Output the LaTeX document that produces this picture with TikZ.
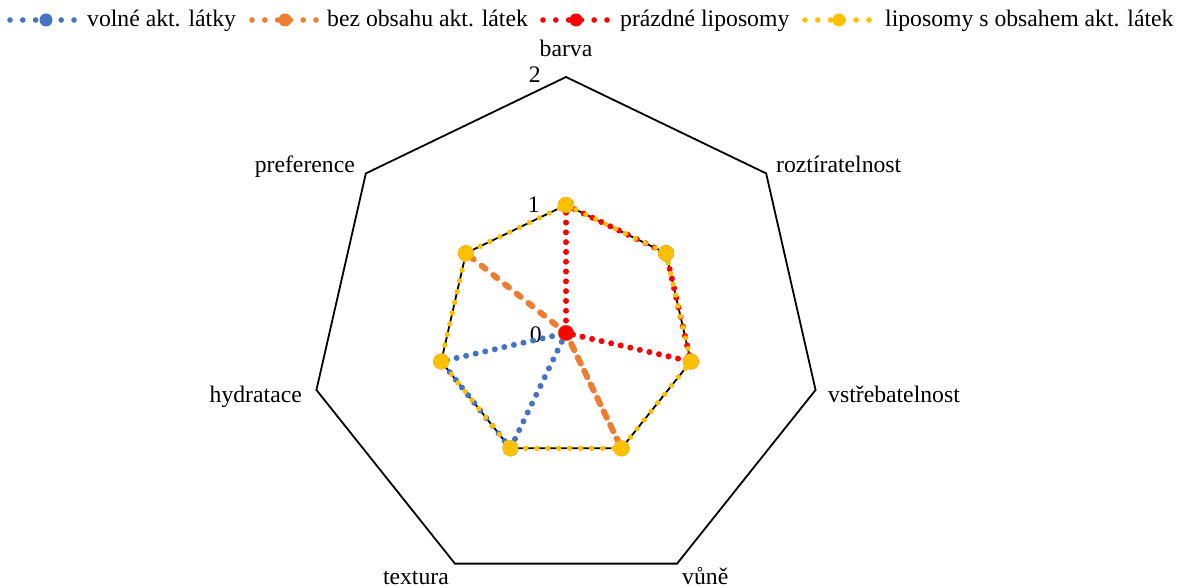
\documentclass[tikz,border=0pt]{standalone}
\usepackage{fontspec}
\setmainfont{Liberation Serif}
\usetikzlibrary{calc}
\definecolor{cblue}{HTML}{4472C4}
\definecolor{corange}{HTML}{ED7D31}
\definecolor{cred}{HTML}{FF0000}
\definecolor{cyellow}{HTML}{FFC000}
\tikzset{
  lbl/.style={inner sep=0pt, font=\fontsize{23.7}{28}\selectfont},
  grid/.style={draw=black, line width=1.8pt, line join=miter},
  ser/.style={line width=6pt, line cap=round, dash pattern=on 0pt off 9.8pt},
  serorange/.style={line width=6pt, line cap=round, dash pattern=on 4pt off 11pt},
  mk/.style={circle, inner sep=0pt, minimum size=16pt},
  lmk/.style={circle, inner sep=0pt, minimum size=13pt},
  lser/.style={line width=5.6pt, line cap=round, dash pattern=on 0pt off 12.8pt}
}
\begin{document}
\begin{tikzpicture}[x=1pt,y=1pt]
\useasboundingbox (0,0) rectangle (1181,587);
\coordinate (c) at (566,254);
\foreach \k in {0,...,6}{
  \coordinate (a\k) at ($(c)+({90-\k*360/7}:128pt)$);
  \coordinate (o\k) at ($(c)+({90-\k*360/7}:256pt)$);
}
% grid
\draw[grid] (o0)--(o1)--(o2)--(o3)--(o4)--(o5)--(o6)--cycle;
\draw[grid] (a0)--(a1)--(a2)--(a3)--(a4)--(a5)--(a6)--cycle;
% axis value labels
\node[lbl, anchor=base east] (v2) at (541,504) {2};
\node[lbl, anchor=base east] (v1) at (540,374) {1};
\node[lbl, anchor=base east] (v0) at (542,244) {0};
% category labels
\node[lbl, anchor=base] (lb0) at (566,530) {barva};
\node[lbl, anchor=base west] (lb1) at (776,414) {roztíratelnost};
\node[lbl, anchor=base west] (lb2) at (828,185) {vstřebatelnost};
\node[lbl, anchor=base west] (lb3) at (682,3) {vůně};
\node[lbl, anchor=base east] (lb4) at (449,3) {textura};
\node[lbl, anchor=base east] (lb5) at (302,185) {hydratace};
\node[lbl, anchor=base east] (lb6) at (355,414) {preference};
% series 1: volne akt. latky (blue)
\draw[ser, cblue] (c)--(a4)--(a5)--cycle;
\foreach \p in {c,a4,a5}{\node[mk, fill=cblue] at (\p) {};}
% series 2: bez obsahu (orange)
\draw[serorange, corange] (c)--(a3)--(c)--(a6)--cycle;
\foreach \p in {c,a3,a6}{\node[mk, fill=corange] at (\p) {};}
% series 3: prazdne liposomy (red)
\draw[ser, cred] (a0)--(a1)--(a2)--(c)--cycle;
\foreach \p in {a0,a1,a2}{\node[mk, fill=cred] at (\p) {};}
\node[mk, fill=cred, minimum size=15pt] (cm) at (c) {};
% series 4: liposomy s obsahem (yellow)
\draw[ser, cyellow, line width=5.4pt, dash pattern=on 0pt off 11pt] (a0)--(a1)--(a2)--(a3)--(a4)--(a5)--(a6)--cycle;
\foreach \p in {a0,a1,a2,a3,a4,a5,a6}{\node[mk, fill=cyellow] at (\p) {};}
% legend
\coordinate (l1a) at (10,567); \coordinate (l1b) at (76,567);
\coordinate (l2a) at (252,567); \coordinate (l2b) at (318,567);
\coordinate (l3a) at (543,567); \coordinate (l3b) at (607,567);
\coordinate (l4a) at (805,567); \coordinate (l4b) at (869,567);
\draw[lser, cblue] (l1a)--(l1b);
\node[lmk, fill=cblue] (m1) at (46,567) {};
\node[lbl, anchor=base west] (t1) at (87,560) {volné akt. látky};
\draw[lser, corange] (l2a)--(l2b);
\node[lmk, fill=corange] (m2) at (285,567) {};
\node[lbl, anchor=base west] (t2) at (327,560) {bez obsahu akt. látek};
\draw[lser, cred] (l3a)--(l3b);
\node[lmk, fill=cred] (m3) at (576,567) {};
\node[lbl, anchor=base west] (t3) at (620,560) {prázdné liposomy};
\draw[lser, cyellow] (l4a)--(l4b);
\node[lmk, fill=cyellow] (m4) at (839,567) {};
\node[lbl, anchor=base west] (t4) at (885,560) {liposomy s obsahem akt. látek};
\end{tikzpicture}
\end{document}
